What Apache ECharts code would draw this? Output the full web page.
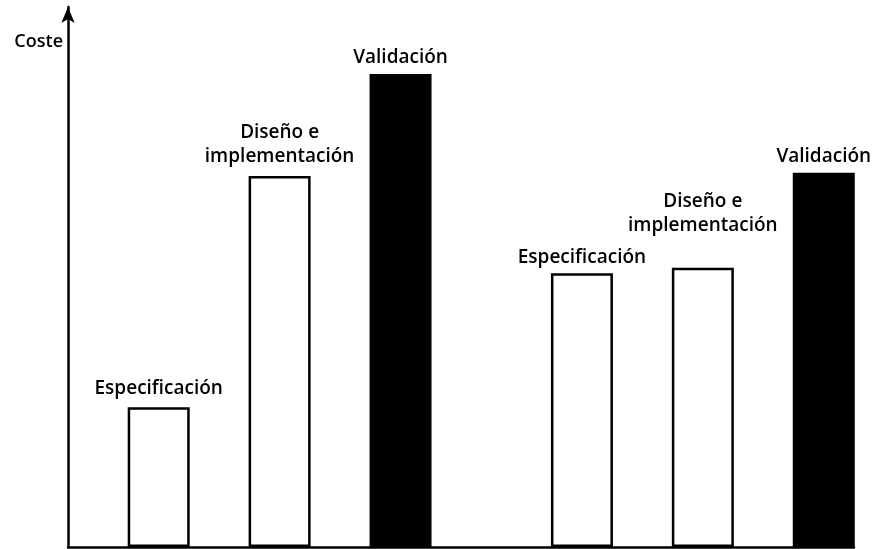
<!DOCTYPE html>
<html>
<head>
<meta charset="utf-8">
<title>Coste por fase</title>
<script src="https://cdn.jsdelivr.net/npm/echarts@6/dist/echarts.min.js"></script>
<style>
  html, body { margin: 0; padding: 0; background: #fff; }
  #chart { width: 876px; height: 549px; }
</style>
</head>
<body>
<div id="chart"></div>
<script>
// fases de cada modelo (dos grupos de tres barras)
const fases = ['Especificación', 'Diseño e\nimplementación', 'Validación',
               'Especificación', 'Diseño e\nimplementación', 'Validación'];
// posición de cada barra sobre el eje horizontal
const posiciones = [1.5, 3.5, 5.5, 8.5, 10.5, 12.5];
// coste relativo (lectura aproximada de la figura)
const costes = [25.9, 68.7, 87.6, 50.7, 51.7, 69.3];
// las barras de validación van en negro
const rellenos = ['#fff', '#fff', '#000', '#fff', '#fff', '#000'];
// separación de la etiqueta respecto a la barra
const separaciones = [7, 7, 4, 4, 30, 4];

const chart = echarts.init(document.getElementById('chart'));

const option = {
    animation: false,
    grid: {
        left: 68,
        right: 22,
        top: 7,
        bottom: 2,
        outerBoundsMode: 'none'
    },
    xAxis: {
        type: 'value',
        min: 0,
        max: 13,
        axisLine: {show: true, lineStyle: {color: '#000', width: 2.5}},
        axisTick: {show: false},
        axisLabel: {show: false},
        splitLine: {show: false}
    },
    yAxis: {
        type: 'value',
        min: 0,
        max: 100,
        name: 'Coste',
        nameLocation: 'end',
        nameGap: -35,
        nameTextStyle: {
            color: '#000',
            fontFamily: 'Open Sans',
            fontSize: 18,
            fontWeight: 600,
            align: 'right',
            verticalAlign: 'middle',
            padding: [0, 5, 0, 0]
        },
        axisLine: {
            show: true,
            symbol: ['none', 'arrow'],
            symbolSize: [10, 16],
            lineStyle: {color: '#000', width: 2.5}
        },
        axisTick: {show: false},
        axisLabel: {show: false},
        splitLine: {show: false}
    },
    series: [{
        type: 'bar',
        barWidth: 62,
        data: costes.map((v, i) => ({
            value: [posiciones[i], v],
            itemStyle: {color: rellenos[i], borderColor: '#000', borderWidth: 2.5},
            label: {formatter: fases[i], distance: separaciones[i]}
        })),
        label: {
            show: true,
            position: 'top',
            color: '#000',
            fontFamily: 'Open Sans',
            fontSize: 19,
            fontWeight: 600,
            lineHeight: 24
        }
    }]
};

chart.setOption(option);
</script>
</body>
</html>
